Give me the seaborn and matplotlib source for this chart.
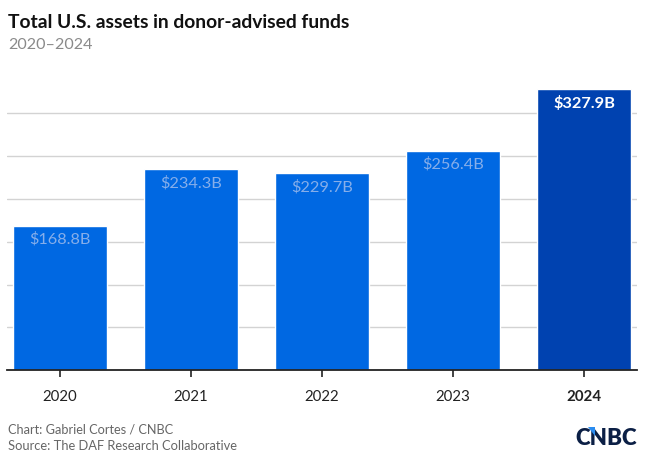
import matplotlib
matplotlib.use("Agg")
import matplotlib.pyplot as plt
from matplotlib.patches import Polygon
import seaborn as sns

years = ["2020", "2021", "2022", "2023", "2024"]
assets = [168.8, 234.3, 229.7, 256.4, 327.9]
labels = ["$168.8B", "$234.3B", "$229.7B", "$256.4B", "$327.9B"]

BLUE = "#0068E2"
DARK_BLUE = "#0042B0"
LABEL_LIGHT = "#86AEEA"
GRID = "#D3D3D3"

sns.set_theme(style="white")
plt.rcParams["font.family"] = ["Lato", "DejaVu Sans"]

fig = plt.figure(figsize=(6.51, 4.65), dpi=100)
ax = fig.add_axes([0.0112, 0.2037, 0.9668, 0.6083])

colors = [BLUE] * (len(years) - 1) + [DARK_BLUE]
sns.barplot(x=years, y=assets, hue=years, palette=colors, legend=False,
            width=0.72, saturation=1, ax=ax, zorder=2)

ax.set_xlim(-0.4, 4.4)
ax.set_ylim(0, 330)
ax.set_yticks([50, 100, 150, 200, 250, 300])
ax.yaxis.grid(True, color=GRID, linewidth=1, zorder=0)
ax.set_axisbelow(True)
ax.tick_params(axis="y", left=False, labelleft=False)
ax.tick_params(axis="x", bottom=True, length=5, width=1.2, color="#222222",
               labelsize=10.8, labelcolor="#222222", pad=9)
for side in ["top", "right", "left"]:
    ax.spines[side].set_visible(False)
ax.spines["bottom"].set_color("#222222")
ax.spines["bottom"].set_linewidth(1.3)
ax.set_xlabel("")
ax.set_ylabel("")

for tick in ax.get_xticklabels():
    if tick.get_text() == "2024":
        tick.set_fontweight("bold")

# value labels inside bar tops
for i, (v, lab) in enumerate(zip(assets, labels)):
    last = i == len(assets) - 1
    ax.annotate(lab, (i, v), xytext=(0, -10), textcoords="offset points",
                ha="center", va="center", fontsize=11.8,
                color="white" if last else LABEL_LIGHT,
                fontweight="bold" if last else "normal", zorder=3)

fig.text(0.0125, 0.952, "Total U.S. assets in donor-advised funds",
         fontsize=13.9, fontweight="bold", color="#111111", va="center")
fig.text(0.0125, 0.903, "2020\u20132024", fontsize=11.6, color="#8A8A8A", va="center")

fig.text(0.0125, 0.077, "Chart: Gabriel Cortes / CNBC", fontsize=9.2, color="#666666", va="center")
fig.text(0.0125, 0.040, "Source: The DAF Research Collaborative", fontsize=9.3, color="#666666", va="center")
fig.text(0.979, 0.058, "CNBC", fontsize=16, fontweight="heavy", color="#0B1F45",
         ha="right", va="center")

# small accent on the logo
W, H = 651, 465
tri = [(588 / W, 1 - 427 / H), (595 / W, 1 - 427 / H), (595 / W, 1 - 436 / H)]
fig.patches.append(Polygon(tri, closed=True, transform=fig.transFigure,
                           facecolor="#2A8CF0", edgecolor="none", zorder=5))

fig.savefig("out.png", dpi=100)
